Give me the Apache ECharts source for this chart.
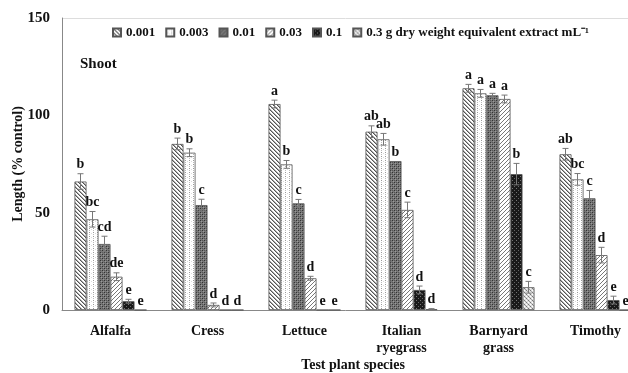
<!DOCTYPE html>
<html><head><meta charset="utf-8">
<script src="https://cdn.jsdelivr.net/npm/echarts@6/dist/echarts.min.js"></script>
<style>html,body{margin:0;padding:0;background:#fff}#c{width:628px;height:373px}</style>
</head><body><div id="c"></div>
<script>
const categories = ['Alfalfa', 'Cress', 'Lettuce', 'Italian\nryegrass', 'Barnyard\ngrass', 'Timothy'];
const seriesNames = ['0.001', '0.003', '0.01', '0.03', '0.1', '0.3 g dry weight equivalent extract mL\u207B\u00B9'];
const s0001 = [66, 85.3, 105.8, 91.6, 113.9, 80];
const s0003 = [46.6, 80.8, 74.8, 87.7, 111.3, 67.1];
const s001  = [33.9, 53.9, 54.8, 76.5, 110.3, 57.4];
const s003  = [17.1, 2.6, 16.3, 51.4, 108.4, 28.2];
const s01   = [4.5, 0, 0, 10.3, 69.8, 5.1];
const s03   = [0, 0, 0, 0.4, 11.7, 0];
const e0001 = [4, 3, 2, 3, 2, 3];
const e0003 = [4, 2, 2, 3, 2, 3];
const e001  = [4, 3, 2, 0, 1, 4];
const e003  = [2, 1, 1, 4, 2, 4];
const e01   = [1, 0, 0, 2, 5.5, 2];
const e03   = [0, 0, 0, 0.3, 3, 0];
const l0001 = ['b', 'b', 'a', 'ab', 'a', 'ab'];
const l0003 = ['bc', 'b', 'b', 'ab', 'a', 'bc'];
const l001  = ['cd', 'c', 'c', 'b', 'a', 'c'];
const l003  = ['de', 'd', 'd', 'c', 'a', 'd'];
const l01   = ['e', 'd', 'e', 'd', 'b', 'e'];
const l03   = ['e', 'd', 'e', 'd', 'c', 'e'];
const yTicks = [0, 50, 100, 150];

const values = [s0001, s0003, s001, s003, s01, s03];
const errors = [e0001, e0003, e001, e003, e01, e03];
const letters = [l0001, l0003, l001, l003, l01, l03];

function pat(kind) {
  const c = document.createElement('canvas');
  const n = 4; c.width = n; c.height = n;
  const g = c.getContext('2d');
  g.fillStyle = '#fff'; g.fillRect(0, 0, n, n);
  const px = (x, y, col) => { g.fillStyle = col; g.fillRect(x, y, 1, 1); };
  if (kind === 0) {
    for (let i = 0; i < n; i++) { px(i, i, '#555'); px((i + 1) % n, i, '#aaa'); }
  } else if (kind === 1) {
    px(1, 0, '#999'); px(1, 2, '#bbb'); px(3, 1, '#ddd');
  } else if (kind === 2) {
    g.fillStyle = '#777'; g.fillRect(0, 0, n, n);
    px(0, 0, '#333'); px(2, 2, '#333'); px(2, 0, '#555'); px(0, 2, '#555'); px(1,1,'#999'); px(3,3,'#999');
  } else if (kind === 3) {
    for (let i = 0; i < n; i++) { px(n - 1 - i, i, '#777'); }
  } else if (kind === 4) {
    g.fillStyle = '#1a1a1a'; g.fillRect(0, 0, n, n);
    px(0, 0, '#777'); px(2, 2, '#666');
  } else {
    g.fillStyle = '#ddd'; g.fillRect(0, 0, n, n);
    px(0, 0, '#777'); px(2, 2, '#777'); px(2, 0, '#fff'); px(0, 2, '#fff'); px(1,1,'#999');px(3,3,'#aaa');
  }
  return { image: c, repeat: 'repeat' };
}

const BW = 12;
const FONT = '"Liberation Serif", "Times New Roman", serif';
const series = [];
seriesNames.forEach((name, i) => {
  series.push({
    name, type: 'bar', data: values[i], barWidth: BW, barGap: '0%',
    itemStyle: { color: pat(i), borderColor: '#555', borderWidth: 0.8 },
    emphasis: { disabled: true }, animation: false
  });
});
seriesNames.forEach((name, i) => {
  series.push({
    type: 'custom', silent: true, animation: false, z: 5,
    data: values[i].map((v, k) => [k, v, errors[i][k]]),
    renderItem: (params, api) => {
      const k = api.value(0), v = api.value(1), e = api.value(2);
      const lt = letters[i][k];
      const base = api.coord([k, v]);
      const x = base[0] + (i - 2.5) * BW;
      const yTop = api.coord([k, v + e])[1];
      const yBot = api.coord([k, Math.max(v - e, 0)])[1];
      const children = [];
      if (e > 0) {
        const ls = { stroke: '#777', lineWidth: 1 };
        children.push({ type: 'line', shape: { x1: x, y1: yTop, x2: x, y2: yBot }, style: ls });
        children.push({ type: 'line', shape: { x1: x - 3, y1: yTop, x2: x + 3, y2: yTop }, style: ls });
        children.push({ type: 'line', shape: { x1: x - 3, y1: yBot, x2: x + 3, y2: yBot }, style: ls });
      }
      const ty = yTop - 2;
      children.push({ type: 'text', style: { text: lt, x: x, y: ty, align: 'center', verticalAlign: 'bottom',
        font: 'bold 14px ' + FONT, fill: '#111' } });
      return { type: 'group', children };
    }
  });
});

const chart = echarts.init(document.getElementById('c'));
chart.setOption({
  animation: false,
  grid: { left: 62, right: -16, top: 18, bottom: 63, containLabel: false, outerBoundsMode: 'none' },
  legend: {
    data: seriesNames, top: 21, left: 107, itemWidth: 8, itemHeight: 8, itemGap: 10,
    textStyle: { fontFamily: FONT, fontWeight: 'bold', fontSize: 13, color: '#111' },
    icon: 'rect', selectedMode: false
  },
  xAxis: {
    type: 'category', data: categories,
    axisLine: { lineStyle: { color: '#888', width: 1 } },
    axisTick: { show: false },
    axisLabel: { fontFamily: FONT, fontWeight: 'bold', fontSize: 14, color: '#111', margin: 13, lineHeight: 17 },
    name: 'Test plant species', nameLocation: 'middle', nameGap: 48, nameMoveOverlap: false,
    nameTextStyle: { fontFamily: FONT, fontWeight: 'bold', fontSize: 14, color: '#111' }
  },
  yAxis: {
    type: 'value', min: 0, max: 150, interval: 50,
    axisLine: { show: true, lineStyle: { color: '#888', width: 1 } },
    axisTick: { show: false },
    splitLine: { show: true, lineStyle: { color: ['transparent', 'transparent', 'transparent', '#ddd'], width: 1 } },
    axisLabel: { fontFamily: FONT, fontWeight: 'bold', fontSize: 15, color: '#111', margin: 12,
      formatter: v => yTicks.includes(v) ? String(v) : '' },
    name: 'Length (% control)', nameLocation: 'middle', nameGap: 37, nameMoveOverlap: false,
    nameTextStyle: { fontFamily: FONT, fontWeight: 'bold', fontSize: 14, color: '#111' }
  },
  graphic: [{ type: 'text', left: 80, top: 57, style: { text: 'Shoot', font: 'bold 15px ' + FONT, fill: '#111' } }],
  series
});
</script></body></html>
